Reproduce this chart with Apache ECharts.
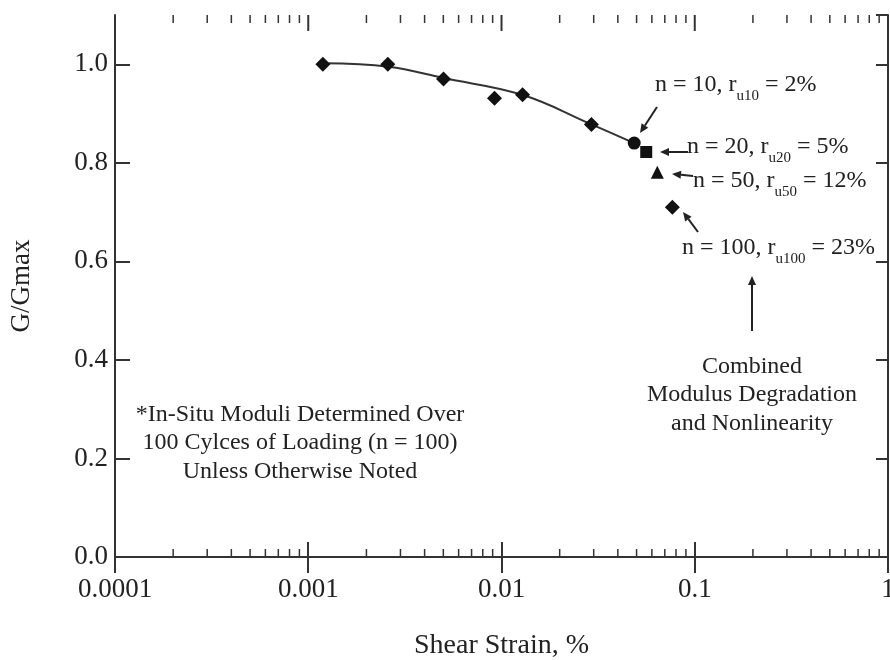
<!DOCTYPE html>
<html><head><meta charset="utf-8">
<script src="https://cdn.jsdelivr.net/npm/echarts@6/dist/echarts.min.js"></script>
<style>html,body{margin:0;padding:0;background:#fff}#c{width:890px;height:660px}</style>
</head><body><div id="c"></div>
<script>
// ---- data ----
const strainN100 = [0.00119, 0.00258, 0.00501, 0.0092, 0.01285, 0.0292, 0.0766];
const ratioN100  = [1.0, 1.0, 0.97, 0.931, 0.938, 0.878, 0.71];
const strainN10 = [0.0486]; const ratioN10 = [0.84];
const strainN20 = [0.0561]; const ratioN20 = [0.822];
const strainN50 = [0.064];  const ratioN50 = [0.781];
const curveStrain = [0.0012, 0.0026, 0.005, 0.0128, 0.0292, 0.0486];
const curveRatio  = [1.002, 0.995, 0.972, 0.938, 0.878, 0.84];
const xTickValues = [0.0001, 0.001, 0.01, 0.1, 1];
const xTickLabels = ['0.0001', '0.001', '0.01', '0.1', '1'];
const yTickValues = [0, 0.2, 0.4, 0.6, 0.8, 1.0];
const minorMultipliers = [2, 3, 4, 5, 6, 7, 8, 9];
const decades = [0.0001, 0.001, 0.01, 0.1];

const xMinorTicks = [];
decades.forEach(d => minorMultipliers.forEach(m => xMinorTicks.push([d * m, 8])));
const xTopMajorTicks = xTickValues.map(v => [v, 16]);

const FONT = "'Liberation Serif', 'Times New Roman', serif";
const INK = '#222';
const AXIS = '#333';

const pairs = (xs, ys) => xs.map((x, i) => [x, ys[i]]);

function arrow(x1, y1, x2, y2) {
  const dx = x2 - x1, dy = y2 - y1, L = Math.hypot(dx, dy);
  const ux = dx / L, uy = dy / L, hl = 9, hw = 4;
  const bx = x2 - ux * hl, by = y2 - uy * hl;
  return [
    { type: 'line', silent: true, shape: { x1, y1, x2: bx, y2: by }, style: { stroke: INK, lineWidth: 2 } },
    { type: 'polygon', silent: true, shape: { points: [[x2, y2], [bx - uy * hw, by + ux * hw], [bx + uy * hw, by - ux * hw]] }, style: { fill: INK } }
  ];
}

const richStyle = {
  m: { fontFamily: FONT, fontSize: 24, lineHeight: 24, verticalAlign: 'top', fill: INK },
  s: { fontFamily: FONT, fontSize: 15, lineHeight: 15, verticalAlign: 'bottom', fill: INK },
  g: { lineHeight: 31, fontSize: 1, verticalAlign: 'top' }
};
function ann(x, yTop, a, sub, b) {
  return { type: 'text', silent: true, x, y: yTop,
    style: { text: '{m|' + a + '}{s|' + sub + '}{m|' + b + '}{g| }', rich: richStyle, fontFamily: FONT } };
}
function block(cx, cy, lines) {
  return { type: 'text', silent: true, x: cx, y: cy,
    style: { text: lines.join('\n'), fontFamily: FONT, fontSize: 24, lineHeight: 28.5, fill: INK, align: 'center', verticalAlign: 'middle' } };
}

const graphics = [].concat(
  ann(655, 73, 'n = 10, r', 'u10', ' = 2%'),
  ann(687, 135, 'n = 20, r', 'u20', ' = 5%'),
  ann(693, 169, 'n = 50, r', 'u50', ' = 12%'),
  ann(682, 236, 'n = 100, r', 'u100', ' = 23%'),
  arrow(657, 107, 640, 133),
  arrow(688, 152, 660, 152),
  arrow(693, 176, 672, 174),
  arrow(698, 232, 683, 212),
  arrow(752, 331, 752, 276),
  block(752, 395, ['Combined', 'Modulus Degradation', 'and Nonlinearity']),
  block(300, 443, ['*In-Situ Moduli Determined Over', '100 Cylces of Loading (n = 100)', 'Unless Otherwise Noted'])
);

const chart = echarts.init(document.getElementById('c'), null, { renderer: 'canvas' });
const xCommon = { type: 'log', logBase: 10, min: 0.0001, max: 1, splitLine: { show: false },
  axisLine: { show: true, lineStyle: { color: AXIS, width: 2 } } };
const yCommon = { type: 'value', min: 0, max: 1.1, interval: 0.2, splitLine: { show: false },
  axisLine: { show: true, lineStyle: { color: AXIS, width: 2 } } };

function tickRenderer(atTop, atBottom) {
  return (params, api) => {
    const v = api.value(0), len = api.value(1);
    const b = api.coord([v, 0]);
    const t = api.coord([v, 1.1]);
    const kids = [];
    if (atBottom) kids.push({ type: 'line', shape: { x1: b[0], y1: b[1], x2: b[0], y2: b[1] - len }, style: { stroke: AXIS, lineWidth: 1.5 } });
    if (atTop) kids.push({ type: 'line', shape: { x1: t[0], y1: t[1], x2: t[0], y2: t[1] + len }, style: { stroke: AXIS, lineWidth: len > 10 ? 2 : 1.5 } });
    return { type: 'group', children: kids };
  };
}

chart.setOption({
  animation: false,
  backgroundColor: '#fff',
  grid: { left: 115, right: 2, top: 15, bottom: 103, containLabel: false, outerBoundsMode: 'none' },
  xAxis: [
    Object.assign({}, xCommon, {
      position: 'bottom',
      name: 'Shear Strain, %', nameLocation: 'middle', nameGap: 75,
      nameTextStyle: { fontFamily: FONT, fontSize: 28, color: INK },
      axisTick: { show: true, inside: true, length: 15, lineStyle: { color: AXIS, width: 2 } },
      axisLabel: { margin: 19, fontFamily: FONT, fontSize: 27, color: INK,
        formatter: v => { const i = xTickValues.findIndex(t => Math.abs(Math.log10(t) - Math.log10(v)) < 1e-6); return i >= 0 ? xTickLabels[i] : ''; } }
    }),
    Object.assign({}, xCommon, {
      position: 'top',
      axisTick: { show: true, inside: true, length: 16, lineStyle: { color: AXIS, width: 2 } },
      axisLabel: { show: false }
    })
  ],
  yAxis: [
    Object.assign({}, yCommon, {
      position: 'left',
      name: 'G/Gmax', nameLocation: 'middle', nameGap: 80,
      nameTextStyle: { fontFamily: FONT, fontSize: 27, color: INK },
      axisTick: { show: true, inside: true, length: 15, lineStyle: { color: AXIS, width: 2 } },
      axisLabel: { margin: 7, fontFamily: FONT, fontSize: 27, color: INK, showMaxLabel: false,
        formatter: v => yTickValues.some(t => Math.abs(t - v) < 1e-9) ? v.toFixed(1) : '' }
    }),
    Object.assign({}, yCommon, {
      position: 'right',
      axisTick: { show: true, inside: true, length: 12, lineStyle: { color: AXIS, width: 2 } },
      axisLabel: { show: false }
    })
  ],
  series: [
    { type: 'custom', xAxisIndex: 0, yAxisIndex: 0, silent: true, clip: false,
      data: xMinorTicks, renderItem: tickRenderer(true, true) },
    { type: 'custom', xAxisIndex: 0, yAxisIndex: 0, silent: true, clip: false,
      data: xTopMajorTicks, renderItem: tickRenderer(true, false) },
    {
      type: 'line', data: pairs(curveStrain, curveRatio), smooth: 0.4, symbol: 'none',
      lineStyle: { color: '#333', width: 2 }, silent: true, z: 2
    },
    { type: 'scatter', data: pairs(strainN100, ratioN100), symbol: 'diamond', symbolSize: 15,
      itemStyle: { color: '#111', opacity: 1 }, silent: true, z: 3 },
    { type: 'scatter', data: pairs(strainN10, ratioN10), symbol: 'circle', symbolSize: 13,
      itemStyle: { color: '#111', opacity: 1 }, silent: true, z: 3 },
    { type: 'scatter', data: pairs(strainN20, ratioN20), symbol: 'rect', symbolSize: 12,
      itemStyle: { color: '#111', opacity: 1 }, silent: true, z: 3 },
    { type: 'scatter', data: pairs(strainN50, ratioN50), symbol: 'triangle', symbolSize: 13,
      itemStyle: { color: '#111', opacity: 1 }, silent: true, z: 3 }
  ],
  graphic: graphics
});
</script></body></html>
